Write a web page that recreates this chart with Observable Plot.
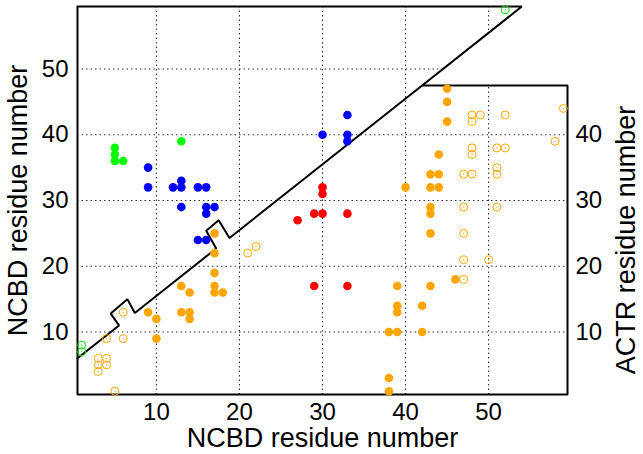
<!DOCTYPE html>
<html><head><meta charset="utf-8">
<script src="https://cdn.jsdelivr.net/npm/d3@7"></script>
<script src="https://cdn.jsdelivr.net/npm/@observablehq/plot@0.6"></script>
<style>
body{margin:0;background:#fff}
svg{font-family:"Liberation Sans",Arial,Helvetica,sans-serif}
</style>
</head><body><div id="chart"></div>
<script>
// ---- tick labels and axis titles ----
const xTicks = [10, 20, 30, 40, 50];
const yTicksLeft = [10, 20, 30, 40, 50];
const yTicksRight = [10, 20, 30, 40];
const xTitle = "NCBD residue number";
const yLeftTitle = "NCBD residue number";
const yRightTitle = "ACTR residue number";

// ---- geometry of the map (residue units) ----
const xDomain = [0.5, 59.5];
const yDomain = [0.5, 59.5];
const boxTop = 47.5;      // top of ACTR block
const outlineX = [0.5, 0.5, 59.5, 59.5, 42, 54, 0.5];
const outlineY = [59.5, 0.5, 0.5, 47.5, 47.5, 59.5, 59.5];
const diagX = [0.5, 5.5, 4.5, 6.5, 7.4, 17.2, 16.0, 17.5, 18.8, 42];
const diagY = [6.0, 11.0, 12.8, 15.0, 12.9, 22.7, 25.4, 27.0, 24.3, 47.5];
// region outside the map (above ACTR block, right of diagonal)
const outsideX = [42, 54, 59.5];
const outsideY1 = [47.5, 47.5, 47.5];
const outsideY2 = [47.5, 59.5, 59.5];

// ---- contacts [x residue, y residue] ----
const greenFilled = [[5,38],[5,37],[5,36],[6,36],[13,39]];
const blueFilled = [[9,35],[9,32],[12,32],[13,32],[13,33],[15,32],[16,32],[13,29],[16,29],[17,29],[16,28],[15,24],[16,24],[30,40],[33,43],[33,40],[33,39]];
const redFilled = [[30,32],[30,31],[29,28],[30,28],[33,28],[27,27],[29,17],[33,17]];
const orangeFilled = [[17,25],[17,22],[17,19],[17,17],[17,16],[18,16],[13,17],[14,16],[13,13],[14,13],[14,12],[9,13],[10,12],[10,9],
  [45,47],[45,45],[45,42],[44,37],[43,34],[44,34],[43,32],[44,32],[40,32],[43,29],[43,28],[43,25],[46,18],[43,17],[39,17],[39,14],[39,13],[42,14],[38,10],[39,10],[42,10],[38,3],[38,1]];
const orangeOpen = [[48,43],[49,43],[48,42],[52,43],[59,44],[58,39],[48,38],[48,37],[51,38],[52,38],[47,34],[48,34],[51,35],[51,34],[47,29],[51,29],[47,25],[47,21],[50,21],[47,18],
  [21,22],[22,23],[6,13],[6,9],[4,9],[3,6],[4,6],[3,5],[4,5],[3,4],[5,1]];
const greenOpen = [[52,59],[1,8],[1,7]];

const outline = outlineX.map((x, i) => ({x, y: outlineY[i]}));
const diagonal = diagX.map((x, i) => ({x, y: diagY[i]}));
const outside = outsideX.map((x, i) => ({x, y1: outsideY1[i], y2: outsideY2[i]}));

const grid = {stroke: "#333", strokeWidth: 1.1, strokeDasharray: "1.5,3"};
const title = {fontSize: 27, textAnchor: "middle", lineAnchor: "middle"};

const chart = Plot.plot({
  width: 643,
  height: 454,
  marginLeft: 77,
  marginRight: 76,
  marginTop: 6,
  marginBottom: 60,
  style: {fontFamily: "Liberation Sans, Arial, sans-serif", background: "#fff"},
  x: {domain: xDomain, axis: null},
  y: {domain: yDomain, axis: null},
  marks: [
    Plot.ruleX(xTicks, {x: d => d, ...grid}),
    Plot.ruleY(yTicksLeft, {y: d => d, ...grid}),
    Plot.areaY(outside, {x: "x", y1: "y1", y2: "y2", fill: "white"}),
    Plot.line(outline, {x: "x", y: "y", stroke: "black", strokeWidth: 2, strokeLinejoin: "miter"}),
    Plot.line(diagonal, {x: "x", y: "y", stroke: "black", strokeWidth: 2, strokeLinejoin: "miter"}),
    Plot.dot(orangeOpen, {x: d => d[0], y: d => d[1], r: 4, stroke: "#FFA500", strokeWidth: 1, fill: "none"}),
    Plot.dot(orangeOpen, {x: d => d[0], y: d => d[1], r: 0.6, fill: "#FFA500"}),
    Plot.dot(greenOpen, {x: d => d[0], y: d => d[1], r: 4, stroke: "#00E000", strokeWidth: 1, fill: "none"}),
    Plot.dot(greenOpen, {x: d => d[0], y: d => d[1], r: 0.6, fill: "#00E000"}),
    Plot.dot(orangeFilled, {x: d => d[0], y: d => d[1], r: 4.3, fill: "#FFA500"}),
    Plot.dot(blueFilled, {x: d => d[0], y: d => d[1], r: 4.3, fill: "#0000FF"}),
    Plot.dot(redFilled, {x: d => d[0], y: d => d[1], r: 4.3, fill: "#FF0000"}),
    Plot.dot(greenFilled, {x: d => d[0], y: d => d[1], r: 4.3, fill: "#00FF00"}),
    Plot.axisX({ticks: xTicks, anchor: "bottom", tickSize: 0, tickPadding: 8, fontSize: 24, label: null}),
    Plot.axisY({ticks: yTicksLeft, anchor: "left", tickSize: 0, tickPadding: 9, fontSize: 24, label: null}),
    Plot.axisY({ticks: yTicksRight, anchor: "right", tickSize: 0, tickPadding: 8, fontSize: 24, label: null}),
    Plot.text([xTitle], {text: d => d, frameAnchor: "bottom", dy: 44, ...title}),
    Plot.text([yLeftTitle], {text: d => d, frameAnchor: "left", rotate: -90, dx: -59, ...title}),
    Plot.text([{t: yRightTitle, y: (yDomain[0] + boxTop) / 2}], {text: "t", y: "y", frameAnchor: "right", rotate: -90, dx: 59, ...title})
  ]
});
document.getElementById("chart").appendChild(chart);
</script>
</body></html>
